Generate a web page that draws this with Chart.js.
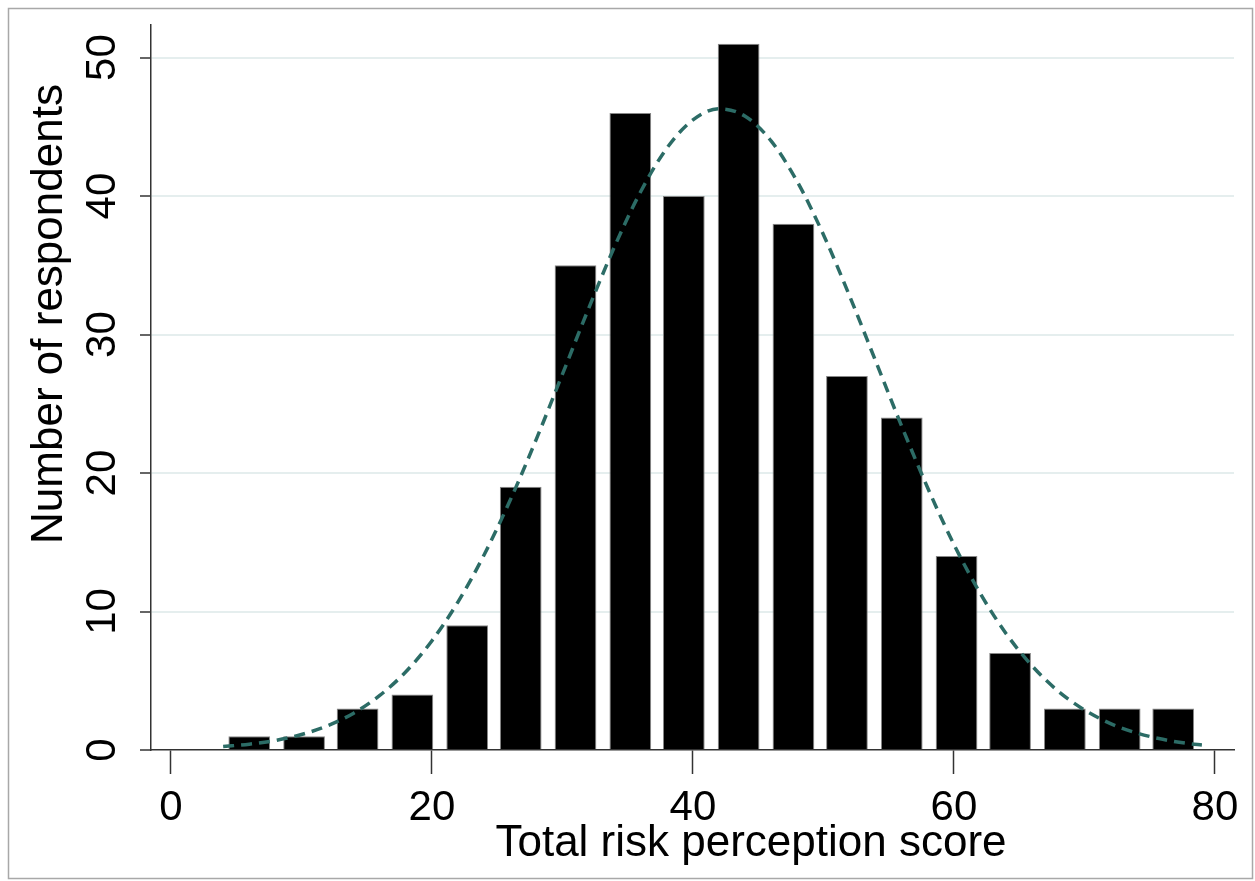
<!DOCTYPE html>
<html>
<head>
<meta charset="utf-8">
<title>Total risk perception score</title>
<script src="https://cdn.jsdelivr.net/npm/chart.js@4.4.1/dist/chart.umd.min.js"></script>
<style>
    html, body { margin: 0; padding: 0; background: #fff; }
    #wrap { width: 1255px; height: 881px; }
</style>
</head>
<body>
<div id="wrap"><canvas id="histChart" width="1255" height="881"></canvas></div>
<script>
// histogram bins (midpoints) and counts
const binMidpoints = [6.0, 10.2, 14.3, 18.5, 22.7, 26.8, 31.0, 35.2, 39.3, 43.5, 47.7, 51.8, 56.0, 60.2, 64.3, 68.5, 72.7, 76.8];
const respondents = [1, 1, 3, 4, 9, 19, 35, 46, 40, 51, 38, 27, 24, 14, 7, 3, 3, 3];

// dashed normal curve
const curveScores = [4, 6, 8, 10, 12, 14, 16, 18, 20, 22, 24, 26, 28, 30, 32, 34, 36, 38, 40, 42, 44, 46, 48, 50, 52, 54, 56, 58, 60, 62, 64, 66, 68, 70, 72, 74, 76, 78, 79];
const curveValues = [0.25, 0.42, 0.69, 1.12, 1.75, 2.66, 3.94, 5.65, 7.89, 10.7, 14.1, 18.05, 22.45, 27.14, 31.87, 36.37, 40.33, 43.46, 45.5, 46.3, 45.76, 43.96, 41.03, 37.21, 32.79, 28.08, 23.37, 18.9, 14.84, 11.33, 8.4, 6.06, 4.24, 2.89, 1.91, 1.23, 0.77, 0.46, 0.36];

const xTicks = [0, 20, 40, 60, 80];
const yTicks = [0, 10, 20, 30, 40, 50];

const xTitle = "Total risk perception score";
const yTitle = "Number of respondents";

const FONT = "'Liberation Sans', Arial, sans-serif";

const framePlugin = {
    id: "frameAndTitles",
    beforeDraw(chart) {
        const ctx = chart.ctx;
        ctx.save();
        ctx.fillStyle = "#fff";
        ctx.fillRect(0, 0, chart.width, chart.height);
        ctx.restore();
    },
    afterDraw(chart) {
        const ctx = chart.ctx;
        ctx.save();
        ctx.strokeStyle = "#a8a8a8";
        ctx.lineWidth = 1.5;
        ctx.strokeRect(8.5, 8.5, 1244, 870);

        ctx.fillStyle = "#000";
        ctx.font = "44px " + FONT;
        ctx.textAlign = "center";
        ctx.textBaseline = "alphabetic";
        ctx.fillText(xTitle, 751, 856);

        ctx.translate(62, 314);
        ctx.rotate(-Math.PI / 2);
        ctx.fillText(yTitle, 0, 0);
        ctx.restore();
    }
};

new Chart(document.getElementById("histChart"), {
    type: "bar",
    data: {
        datasets: [{
            type: "line",
            data: curveScores.map((x, i) => ({ x, y: curveValues[i] })),
            borderColor: "#2c6c66",
            borderWidth: 3.5,
            borderDash: [11, 7],
            pointRadius: 0,
            tension: 0.4,
            cubicInterpolationMode: "monotone",
            fill: false,
            order: 1
        }, {
            type: "bar",
            data: binMidpoints.map((x, i) => ({ x, y: respondents[i] })),
            backgroundColor: "#000",
            borderColor: "#888",
            borderWidth: 1,
            barPercentage: 0.78,
            categoryPercentage: 1,
            order: 2
        }]
    },
    options: {
        responsive: false,
        devicePixelRatio: 1,
        animation: false,
        layout: { padding: { left: 0, top: 25, right: 21, bottom: 0 } },
        plugins: { legend: { display: false }, tooltip: { enabled: false } },
        scales: {
            x: {
                type: "linear",
                min: -1.53,
                max: 81.46,
                offset: false,
                afterFit: s => { s.height = 131; s.paddingLeft = 0; s.paddingRight = 0; },
                afterBuildTicks: s => { s.ticks = xTicks.map(v => ({ value: v })); },
                grid: { offset: false, drawOnChartArea: false, tickLength: 24, tickColor: "#333", tickWidth: 1.5 },
                border: { color: "#333", width: 1.5 },
                ticks: { color: "#000", font: { family: FONT, size: 42, lineHeight: 1 }, padding: 13, maxRotation: 0, autoSkip: false }
            },
            y: {
                min: 0,
                max: 52.35,
                afterFit: s => { s.width = 151; s.paddingTop = 0; s.paddingBottom = 0; },
                afterBuildTicks: s => { s.ticks = yTicks.map(v => ({ value: v })); },
                grid: {
                    color: c => c.tick && c.tick.value === 0 ? "rgba(0,0,0,0)" : "#e5eeee",
                    lineWidth: 2,
                    tickLength: 11,
                    tickColor: "#333",
                    tickWidth: 1.5
                },
                border: { color: "#333", width: 1.5 },
                ticks: { color: "#000", font: { family: FONT, size: 42, lineHeight: 1 }, padding: 13, minRotation: 90, maxRotation: 90, crossAlign: "center", autoSkip: false }
            }
        }
    },
    plugins: [framePlugin]
});
</script>
</body>
</html>
